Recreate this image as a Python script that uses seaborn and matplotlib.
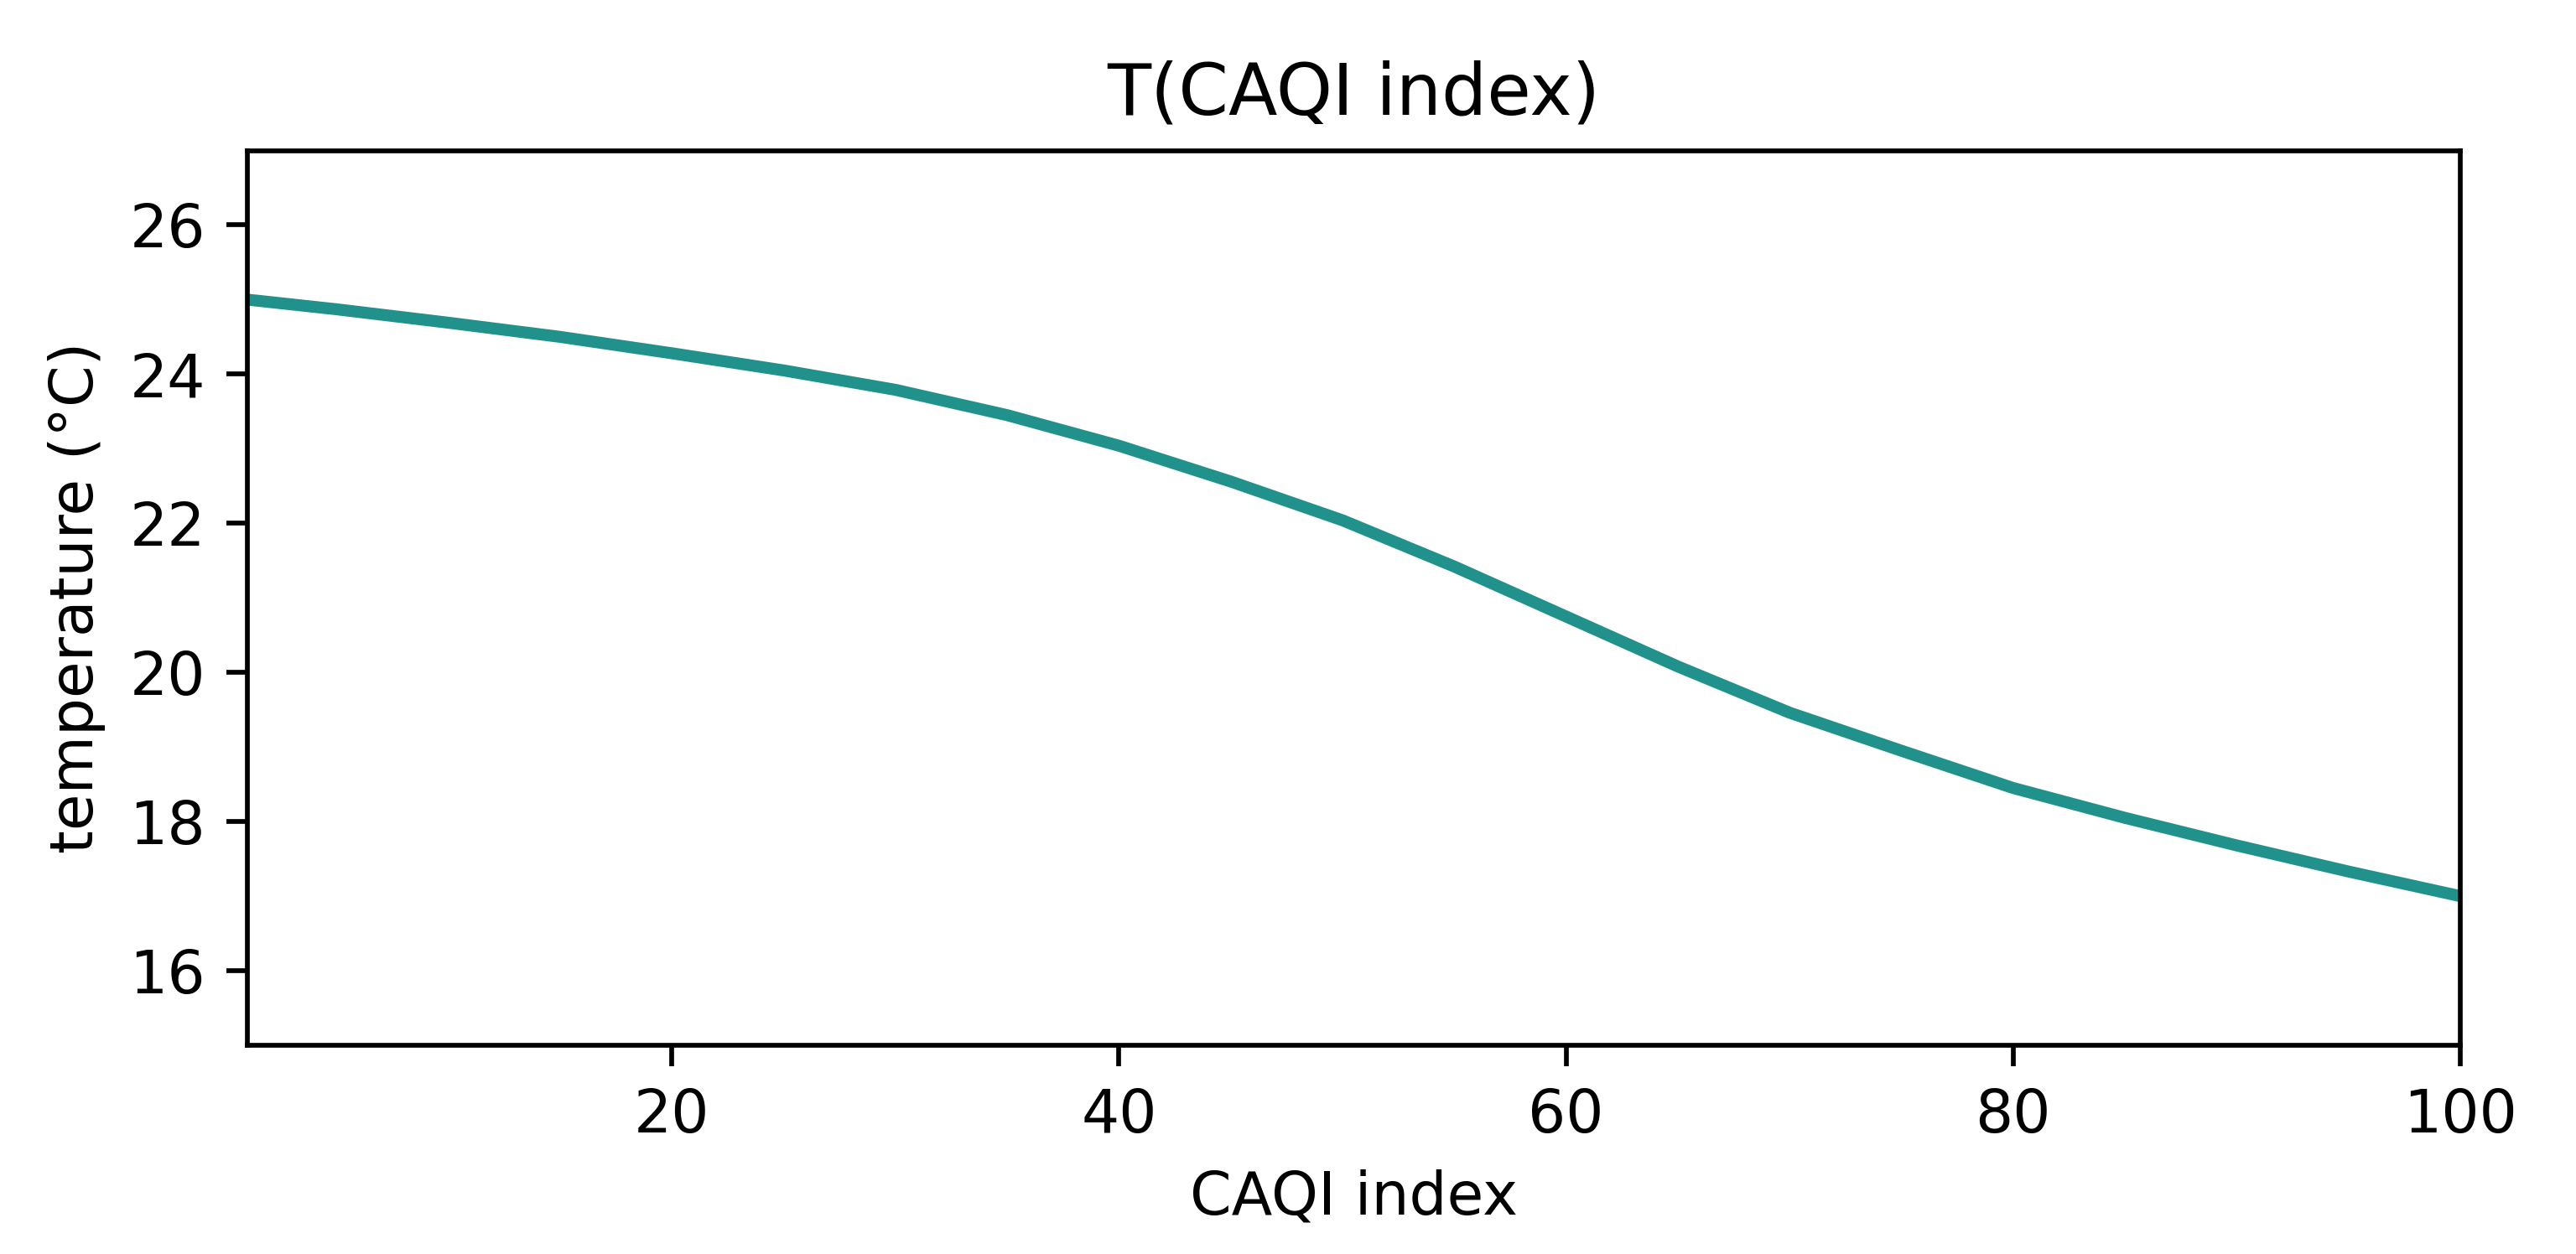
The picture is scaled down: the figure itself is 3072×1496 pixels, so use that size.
import pandas as pd
import matplotlib
matplotlib.use('Agg')
import matplotlib.pyplot as plt
import seaborn as sns

# valores
caqi = [1, 5, 10, 15, 20, 25, 30, 35, 40, 45, 50,
        55, 60, 65, 70, 75, 80, 85, 90, 95, 100]
temperatura = [25.0, 24.87, 24.69, 24.5, 24.28, 24.05, 23.79, 23.45, 23.04, 22.56, 22.04,
               21.42, 20.75, 20.08, 19.46, 18.95, 18.45, 18.05, 17.68, 17.33, 17.0]

df = pd.DataFrame({'CAQI index': caqi, 'temperature': temperatura})

fig, ax = plt.subplots(figsize=(6, 2.921875), dpi=512)
fig.subplots_adjust(left=0.096, right=0.955, top=0.880, bottom=0.1665)

sns.lineplot(data=df, x='CAQI index', y='temperature', ax=ax,
             color='#21918c', linewidth=2)

ax.set_xlim(1, 100)
ax.set_ylim(15, 27)
ax.set_xticks([20, 40, 60, 80, 100])
ax.set_yticks([16, 18, 20, 22, 24, 26])
ax.set_title('T(CAQI index)')
ax.set_xlabel('CAQI index')
ax.set_ylabel('temperature (°C)')

plt.savefig('out.png', dpi=512)
